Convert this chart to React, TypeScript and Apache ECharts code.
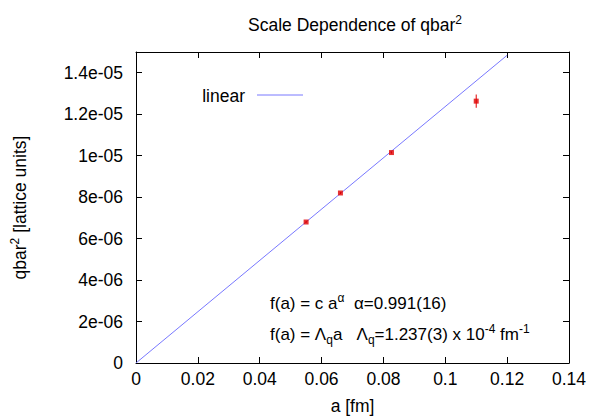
import React, { useEffect, useRef } from "react";
import * as echarts from "echarts";

const aValues = [0.055, 0.0661, 0.0826, 0.110];
const qbar2Values = [6.8e-6, 8.2e-6, 10.15e-6, 12.63e-6];
const qbar2Errors = [0.05e-6, 0.05e-6, 0.05e-6, 0.32e-6];
const fitLambda = 1.237e-4;
const fitRange = [0, 0.12];
const xTicks = { min: 0, max: 0.14, interval: 0.02 };
const yTicks = { min: 0, max: 1.5e-5, interval: 2e-6 };

const FONT = "Liberation Sans, Arial, sans-serif";
const FS = 17.5;

function fmtY(v: number): string {
  if (Math.abs(v) < 1e-12) return "0";
  let exp = Math.floor(Math.log10(Math.abs(v)));
  let m = Math.round((v / Math.pow(10, exp)) * 10) / 10;
  if (m >= 10) {
    m = m / 10;
    exp += 1;
  }
  const sign = exp < 0 ? "-" : "+";
  const e = Math.abs(exp);
  return `${m}e${sign}${e < 10 ? "0" + e : e}`;
}

function fmtX(v: number): string {
  if (Math.abs(v) < 1e-12) return "0";
  return String(Math.round(v * 1000) / 1000);
}

export default function App() {
  const ref = useRef<HTMLDivElement>(null);
  useEffect(() => {
    if (!ref.current) return;
    const chart = echarts.init(ref.current, null, { renderer: "svg" });
    const points = aValues.map((a, i) => [a, qbar2Values[i], qbar2Errors[i]]);
    const fitLine = fitRange.map((a) => [a, a * fitLambda]);
    const axisCommon = {
      axisLine: { show: true, onZero: false, lineStyle: { color: "#000", width: 1 } },
      axisTick: { show: true, inside: true, length: 6, lineStyle: { color: "#000" } },
      splitLine: { show: false },
    };
    const base = { fontFamily: FONT, fontSize: 17, color: "#000", lineHeight: 24, verticalAlign: "middle", fontWeight: "normal" };
    const sup = { fontFamily: FONT, fontSize: 12, color: "#000", lineHeight: 24, verticalAlign: "top", padding: [1, 0, 0, 0], fontWeight: "normal" };
    const sub = { fontFamily: FONT, fontSize: 12, color: "#000", lineHeight: 24, verticalAlign: "bottom", padding: [0, 0, 0, 0], fontWeight: "normal" };
    chart.setOption({
      animation: false,
      backgroundColor: "#fff",
      textStyle: { fontFamily: FONT },
      grid: { left: 131, right: 30, top: 52, bottom: 53, containLabel: false },
      title: {
        text: "{n|Scale Dependence of qbar}{s|2}",
        left: 350,
        textAlign: "center",
        top: 8,
        textStyle: {
          fontWeight: "normal",
          rich: {
            n: { ...base, fontSize: FS },
            s: { ...sup, fontSize: 12 },
          },
        },
      },
      xAxis: [
        {
          type: "value",
          ...xTicks,
          position: "bottom",
          ...axisCommon,
          axisLabel: { formatter: fmtX, fontFamily: FONT, fontSize: FS, color: "#000", margin: 7 },
          name: "a [fm]",
          nameLocation: "middle",
          nameGap: 34,
          nameTextStyle: { fontFamily: FONT, fontSize: FS, color: "#000" },
        },
        {
          type: "value",
          ...xTicks,
          position: "top",
          ...axisCommon,
          axisLabel: { show: false },
        },
      ],
      yAxis: [
        {
          type: "value",
          ...yTicks,
          position: "left",
          ...axisCommon,
          axisLabel: {
            formatter: fmtY,
            fontFamily: FONT,
            fontSize: FS,
            color: "#000",
            margin: 13,
            showMaxLabel: false,
          },
          name: "{n|qbar}{s|2}{n| [lattice units]}",
          nameLocation: "middle",
          nameGap: 104,
          nameTextStyle: {
            rich: {
              n: { ...base, fontSize: FS },
              s: { ...sup, fontSize: 12 },
            },
          },
        },
        {
          type: "value",
          ...yTicks,
          position: "right",
          ...axisCommon,
          axisLabel: { show: false },
        },
      ],
      series: [
        {
          type: "line",
          name: "linear",
          data: fitLine,
          showSymbol: false,
          symbol: "none",
          lineStyle: { color: "#7878ff", width: 1 },
          z: 2,
        },
        {
          type: "custom",
          name: "errors",
          data: points,
          renderItem: (params: any, api: any) => {
            const x = api.value(0);
            const y = api.value(1);
            const e = api.value(2);
            const lo = api.coord([x, y - e]);
            const hi = api.coord([x, y + e]);
            return {
              type: "line",
              shape: { x1: lo[0], y1: lo[1], x2: hi[0], y2: hi[1] },
              style: { stroke: "#e00000", lineWidth: 1 },
            };
          },
          z: 3,
        },
        {
          type: "scatter",
          name: "data",
          data: points.map((p) => [p[0], p[1]]),
          symbol: "rect",
          symbolSize: 5,
          itemStyle: { color: "#e00000" },
          z: 4,
        },
      ],
      graphic: [
        {
          type: "text",
          x: 245,
          y: 96,
          style: {
            text: "linear",
            fill: "#000",
            font: `${FS}px ${FONT}`,
            textAlign: "right",
            textVerticalAlign: "middle",
          },
        },
        {
          type: "line",
          shape: { x1: 257, y1: 95, x2: 303, y2: 95 },
          style: { stroke: "#7878ff", lineWidth: 1 },
        },
        {
          type: "text",
          x: 270,
          y: 303,
          style: {
            text: "{n|f(a) = c a}{s|α}{n|  α=0.991(16)}",
            textVerticalAlign: "middle",
            rich: { n: base, s: sup },
          },
        },
        {
          type: "text",
          x: 270,
          y: 334,
          style: {
            text: "{n|f(a) = Λ}{b|q}{n|a   Λ}{b|q}{n|=1.237(3) x 10}{s|-4}{n| fm}{s|-1}",
            textVerticalAlign: "middle",
            rich: { n: base, s: sup, b: sub },
          },
        },
      ],
    });
    return () => chart.dispose();
  }, []);
  return (
    <div
      ref={ref}
      style={{ position: "absolute", left: 0, top: 0, width: 599, height: 420 }}
    />
  );
}
